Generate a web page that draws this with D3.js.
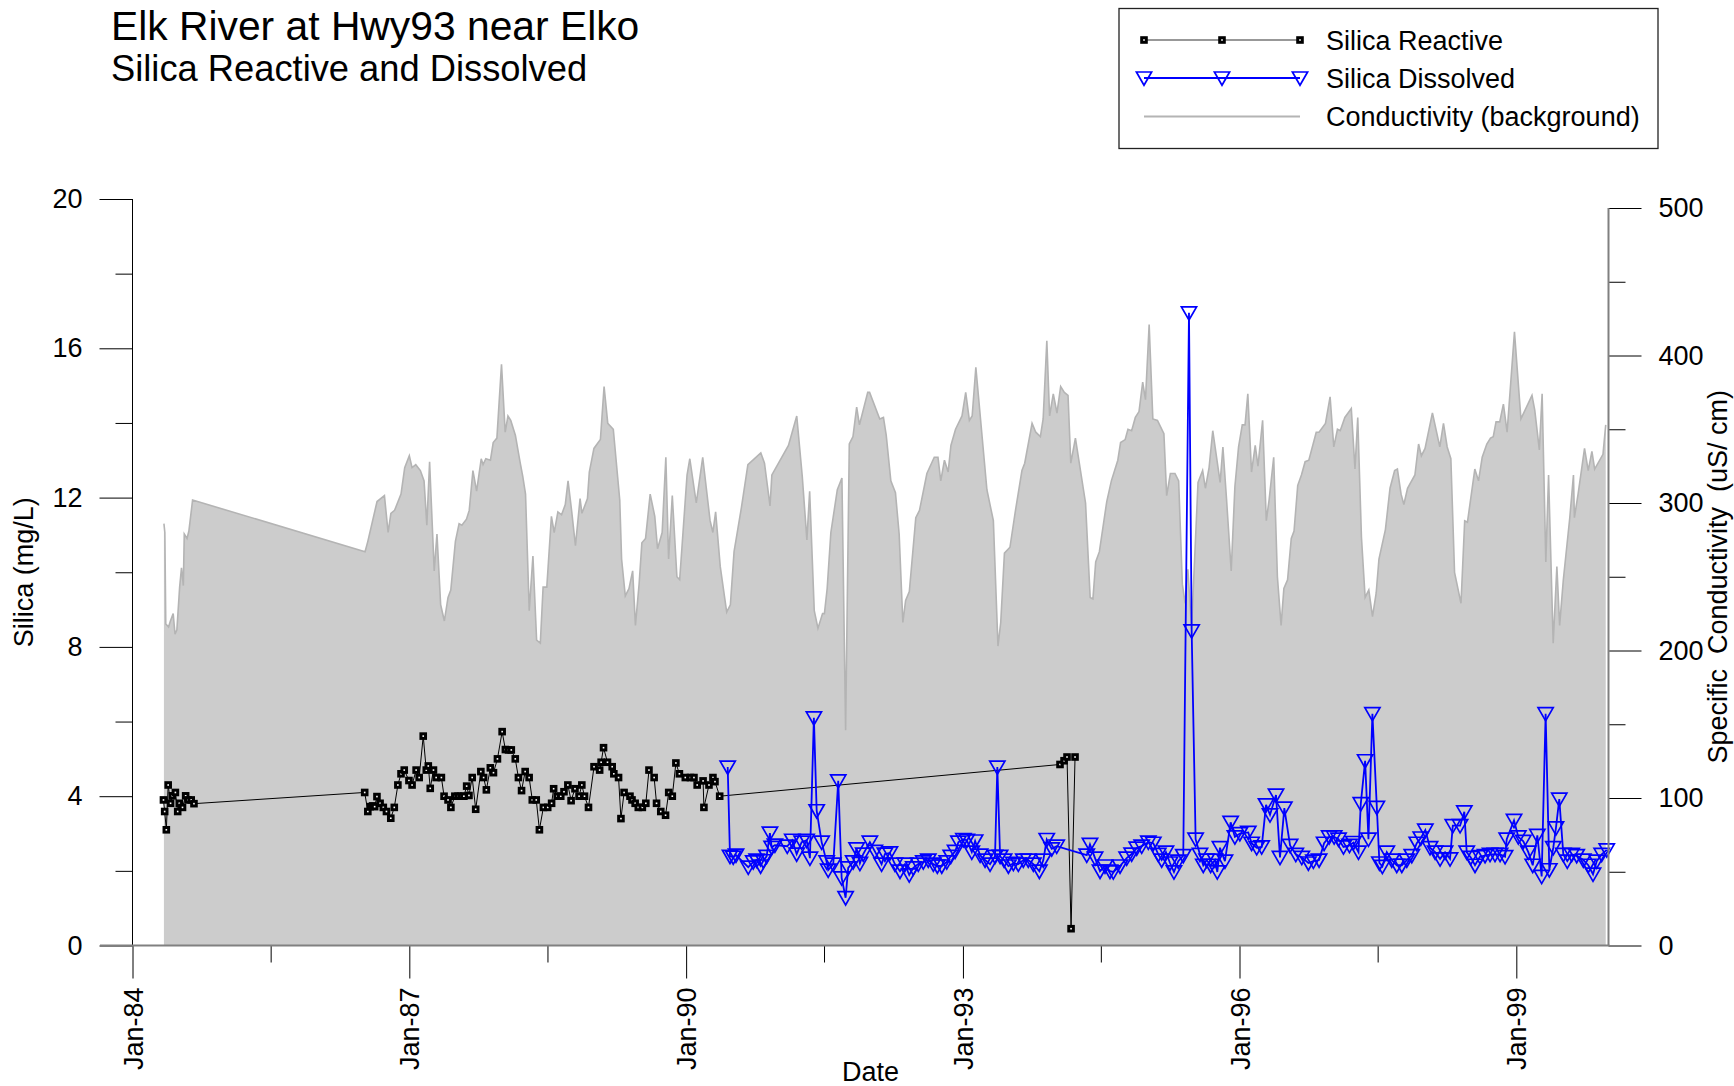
<!DOCTYPE html>
<html><head><meta charset="utf-8">
<script src="https://cdn.jsdelivr.net/npm/d3@7"></script>
<style>
html,body{margin:0;padding:0;background:#fff;}
svg{display:block;font-family:"Liberation Sans",Arial,Helvetica,sans-serif;}
</style></head><body>
<svg id="chart" width="1734" height="1086"></svg>
<script>
// ---------------- DATA ----------------
const titleLines = ["Elk River at Hwy93 near Elko", "Silica Reactive and Dissolved"];
const seriesNames = ["Silica Reactive", "Silica Dissolved", "Conductivity (background)"];
const xLabel = "Date";
const yLeftLabel = "Silica (mg/L)";
const yRightLabel = "Specific  Conductivity  (uS/ cm)";

const xMajorTicks = ["1984-01-01","1987-01-01","1990-01-01","1993-01-01","1996-01-01","1999-01-01"];
const xTickLabels = ["Jan-84","Jan-87","Jan-90","Jan-93","Jan-96","Jan-99"];
const xMinorTicks = ["1985-07-01","1988-07-01","1991-07-01","1994-07-01","1997-07-01"];
const yLeftMajor = [0,4,8,12,16,20];
const yLeftMinor = [2,6,10,14,18];
const yRightMajor = [0,100,200,300,400,500];
const yRightMinor = [50,150,250,350,450];

// Conductivity (decimal year, uS/cm)
const condYears = [
1984.34,1984.35,1984.36,1984.39,1984.41,1984.44,1984.46,1984.48,1984.51,1984.53,1984.55,1984.56,1984.59,1984.61,1984.65,
1986.52,1986.55,1986.65,1986.73,1986.77,1986.80,1986.84,1986.91,1986.95,1987.00,1987.03,1987.07,1987.12,1987.16,1987.19,1987.22,1987.27,1987.30,1987.34,1987.38,1987.42,1987.45,1987.50,1987.54,1987.57,1987.62,1987.65,1987.69,1987.73,1987.78,1987.80,1987.83,1987.88,1987.91,1987.95,
1988.00,1988.04,1988.07,1988.10,1988.15,1988.20,1988.23,1988.26,1988.30,1988.34,1988.38,1988.42,1988.45,1988.49,1988.54,1988.57,1988.61,1988.65,1988.69,1988.72,1988.76,1988.80,1988.85,1988.87,1988.93,1988.95,
1989.00,1989.07,1989.11,1989.15,1989.21,1989.28,1989.30,1989.34,1989.38,1989.42,1989.45,1989.49,1989.52,1989.56,1989.61,1989.66,1989.69,1989.74,1989.78,1989.81,1989.85,1989.90,1989.93,
1990.01,1990.04,1990.11,1990.18,1990.26,1990.29,1990.32,1990.37,1990.44,1990.48,1990.52,1990.60,1990.67,1990.81,1990.85,1990.91,1990.93,
1991.11,1991.20,1991.26,1991.31,1991.34,1991.39,1991.43,1991.48,1991.50,1991.53,1991.57,1991.64,1991.69,1991.73,1991.77,1991.81,1991.85,1991.88,1991.97,1991.99,
1992.10,1992.14,1992.17,1992.22,1992.27,1992.31,1992.35,1992.38,1992.42,1992.49,1992.53,1992.61,1992.69,1992.73,1992.76,1992.80,1992.84,1992.87,1992.92,1992.99,
1993.03,1993.07,1993.10,1993.14,1993.26,1993.33,1993.38,1993.41,1993.45,1993.51,1993.57,1993.64,1993.67,1993.75,1993.79,1993.84,1993.87,1993.91,1993.94,1993.98,
1994.02,1994.06,1994.10,1994.14,1994.17,1994.22,1994.33,1994.38,1994.41,1994.44,1994.48,1994.56,1994.61,1994.68,1994.71,1994.76,1994.79,1994.83,1994.87,1994.91,1994.95,1994.98,
1995.02,1995.06,1995.11,1995.18,1995.21,1995.25,1995.30,1995.34,1995.38,1995.41,1995.44,1995.48,1995.55,1995.60,1995.63,1995.67,1995.71,1995.79,1995.82,1995.86,1995.91,1995.95,1995.99,
1996.03,1996.06,1996.09,1996.13,1996.17,1996.20,1996.25,1996.29,1996.32,1996.37,1996.41,1996.45,1996.48,1996.52,1996.56,1996.59,1996.63,1996.67,1996.71,1996.75,1996.83,1996.86,1996.93,1996.98,
1997.02,1997.06,1997.09,1997.14,1997.21,1997.25,1997.28,1997.32,1997.36,1997.40,1997.44,1997.48,1997.51,1997.58,1997.63,1997.68,1997.71,1997.75,1997.78,1997.82,1997.90,1997.94,1997.97,
1998.01,1998.09,1998.17,1998.21,1998.25,1998.29,1998.33,1998.40,1998.44,1998.47,1998.55,1998.59,1998.63,1998.68,1998.72,1998.75,1998.78,1998.82,1998.86,1998.90,1998.98,
1999.05,1999.17,1999.20,1999.25,1999.28,1999.32,1999.35,1999.40,1999.44,1999.47,1999.51,1999.58,1999.62,1999.63,1999.67,1999.74,1999.78,1999.82,1999.85,1999.94,1999.97];
const condValues = [
286,280,218,216,220,225,211,214,243,256,244,279,276,281,302,
267,274,301,305,280,293,295,306,324,332,324,326,322,315,285,328,254,279,231,220,236,241,274,286,285,289,295,322,308,330,326,330,329,341,344,
394,348,359,356,346,328,318,306,227,264,207,205,243,243,291,280,294,292,299,315,294,271,303,293,303,321,
337,343,379,354,350,302,262,237,242,254,217,245,273,276,306,291,269,280,331,262,305,250,248,
319,330,300,331,288,280,294,257,226,231,267,297,326,334,327,298,319,
339,359,318,275,308,227,215,225,225,242,280,309,317,146,340,345,365,353,375,375,
357,358,346,315,307,279,219,234,240,290,295,320,331,331,315,329,321,339,350,359,
375,356,359,392,309,288,203,219,266,270,295,322,327,354,348,345,357,410,359,374,
361,379,375,373,327,344,300,236,235,260,267,301,315,329,341,343,350,349,358,362,382,370,
421,357,356,347,305,320,320,315,245,232,255,215,314,322,310,324,349,314,338,302,254,311,338,
353,353,374,321,339,325,356,288,302,331,250,217,242,248,276,281,312,319,328,329,348,348,354,372,
338,350,349,358,364,323,358,277,236,241,223,239,262,282,310,322,323,306,299,310,319,340,332,
337,361,338,354,338,330,253,232,288,287,323,315,331,340,344,345,355,355,367,348,416,
357,373,363,336,374,260,319,205,257,217,248,290,319,290,306,337,322,335,323,333,353];

// Silica Reactive (decimal year, mg/L)
const reactiveYears = [
1984.335,1984.348,1984.366,1984.386,1984.412,1984.430,1984.464,1984.489,1984.506,1984.541,1984.575,1984.601,1984.635,1984.665,
1986.516,1986.550,1986.576,1986.602,1986.624,1986.649,1986.683,1986.718,1986.752,1986.799,1986.837,1986.876,1986.910,1986.945,1986.996,
1987.030,1987.074,1987.107,1987.151,1987.184,1987.206,1987.227,1987.262,1987.291,1987.348,1987.377,1987.420,1987.451,1987.494,1987.528,1987.561,1987.592,1987.622,1987.647,1987.682,1987.720,1987.776,1987.806,1987.836,1987.879,1987.913,1987.956,
1988.007,1988.042,1988.076,1988.106,1988.149,1988.183,1988.217,1988.256,1988.299,1988.333,1988.376,1988.410,1988.453,1988.500,1988.542,1988.564,1988.603,1988.641,1988.676,1988.718,1988.753,1988.795,1988.839,1988.869,1988.898,1988.941,
1989.001,1989.062,1989.078,1989.104,1989.147,1989.198,1989.216,1989.267,1989.293,1989.327,1989.391,1989.413,1989.447,1989.481,1989.525,1989.563,1989.597,1989.653,1989.679,1989.725,1989.777,1989.811,1989.850,1989.889,1989.927,1989.991,
1990.047,1990.085,1990.120,1990.184,1990.193,1990.248,1990.291,1990.313,1990.364,
1994.053,1994.097,1994.129,1994.173,1994.216];
const reactiveValues = [
3.90,3.59,3.10,4.30,3.81,4.01,4.10,3.59,3.81,3.70,4.01,3.90,3.90,3.80,
4.10,3.59,3.72,3.74,3.72,3.99,3.81,3.70,3.59,3.41,3.70,4.30,4.60,4.70,4.42,
4.30,4.70,4.50,5.61,4.70,4.81,4.21,4.70,4.50,4.50,4.00,3.90,3.70,4.00,4.00,4.00,4.00,4.27,4.02,4.50,3.65,4.66,4.50,4.17,4.76,4.63,5.00,
5.73,5.25,5.24,5.24,5.00,4.50,4.15,4.66,4.50,3.90,3.90,3.10,3.70,3.70,3.81,4.20,4.00,4.00,4.12,4.30,3.88,4.20,4.00,4.30,4.00,3.70,
4.79,4.70,4.91,5.30,4.91,4.79,4.60,4.50,3.40,4.10,4.00,3.90,3.81,3.70,3.70,3.81,4.70,4.50,3.81,3.59,3.49,4.10,4.00,4.89,4.60,4.50,
4.50,4.50,4.30,4.41,3.70,4.30,4.50,4.39,4.00,
4.85,4.95,5.05,0.45,5.05];

// Silica Dissolved (decimal year, mg/L)
const dissolvedYears = [
1990.451,1990.476,1990.511,1990.541,1990.674,1990.728,1990.765,1990.808,1990.837,1990.873,1990.909,1990.928,1990.963,
1991.097,1991.151,1991.199,1991.253,1991.307,1991.343,1991.386,1991.416,1991.470,1991.524,1991.541,1991.596,1991.650,1991.687,1991.730,1991.758,1991.812,1991.849,1991.885,1991.921,1991.993,
1992.047,1992.120,1992.156,1992.210,1992.264,1992.319,1992.373,1992.419,1992.463,1992.517,1992.571,1992.625,1992.680,1992.723,1992.771,1992.825,1992.868,1992.915,1992.951,
1993.005,1993.042,1993.096,1993.132,1993.186,1993.240,1993.294,1993.348,1993.373,1993.403,1993.446,1993.493,1993.547,1993.601,1993.655,1993.709,1993.764,1993.829,1993.872,1993.909,1993.963,
1994.017,1994.343,1994.378,1994.433,1994.487,1994.541,1994.595,1994.631,1994.704,1994.776,1994.830,1994.885,1994.939,
1995.011,1995.065,1995.119,1995.156,1995.202,1995.246,1995.289,1995.336,1995.390,1995.452,1995.481,1995.524,1995.571,1995.607,1995.643,1995.687,1995.734,1995.759,1995.788,1995.842,1995.904,1995.950,
1996.004,1996.095,1996.131,1996.186,1996.240,1996.287,1996.330,1996.395,1996.438,1996.485,1996.547,1996.609,1996.674,1996.745,1996.799,1996.861,1996.915,1996.970,
1997.024,1997.071,1997.125,1997.190,1997.233,1997.288,1997.313,1997.360,1997.396,1997.439,1997.487,1997.515,1997.547,1997.595,1997.649,1997.703,1997.758,1997.812,1997.866,1997.920,1997.964,
1998.013,1998.064,1998.119,1998.173,1998.227,1998.281,1998.311,1998.390,1998.436,1998.462,1998.506,1998.552,1998.607,1998.661,1998.715,1998.769,1998.824,1998.878,1998.896,1998.975,
1999.022,1999.076,1999.130,1999.178,1999.228,1999.275,1999.318,1999.358,1999.401,1999.430,1999.466,1999.510,1999.553,1999.601,1999.655,1999.727,1999.781,1999.832,1999.872,1999.926,1999.981];
const dissolvedValues = [
4.78,2.39,2.37,2.42,2.10,2.24,2.29,2.13,2.27,2.39,3.01,2.63,2.69,
2.66,2.82,2.45,2.77,2.82,2.34,6.10,3.61,2.77,2.24,2.02,2.18,4.41,1.81,1.28,2.08,2.24,2.59,2.20,2.45,2.77,
2.52,2.18,2.45,2.48,2.18,1.99,2.18,1.89,2.08,2.18,2.24,2.29,2.18,2.13,2.13,2.24,2.39,2.52,2.77,
2.84,2.82,2.50,2.80,2.42,2.29,2.18,2.39,4.78,2.39,2.29,2.13,2.20,2.18,2.29,2.29,2.18,1.99,2.29,2.84,2.59,
2.66,2.42,2.71,2.34,1.99,2.13,1.99,1.97,2.13,2.34,2.45,2.61,2.66,
2.77,2.74,2.44,2.29,2.50,2.21,1.97,2.26,2.41,16.95,8.43,2.85,2.44,2.15,2.29,2.15,2.29,1.97,2.62,2.26,3.30,2.91,
3.00,3.03,2.74,2.62,2.64,3.77,3.50,4.03,2.36,3.68,2.68,2.44,2.36,2.21,2.26,2.29,2.74,2.91,
2.91,2.85,2.64,2.68,2.76,2.50,3.80,4.95,2.85,6.21,3.70,2.21,2.12,2.50,2.29,2.15,2.15,2.29,2.41,2.74,2.88,
3.09,2.62,2.50,2.32,2.50,2.32,3.21,3.21,3.58,2.50,2.36,2.15,2.38,2.41,2.44,2.44,2.44,2.38,2.85,3.35,
2.91,2.79,2.50,2.15,2.95,1.85,6.21,2.03,2.62,3.15,3.92,2.44,2.26,2.44,2.41,2.29,2.15,1.91,2.26,2.44,2.56];

// ---------------- CHART ----------------
function dec2date(d){
  const y = Math.floor(d);
  const a = new Date(y,0,1), b = new Date(y+1,0,1);
  return new Date(+a + (d - y) * (b - a));
}
const parse = d3.timeParse("%Y-%m-%d");
const cond = d3.zip(condYears, condValues).map(([t,v]) => ({date: dec2date(t), v}));
const reactive = d3.zip(reactiveYears, reactiveValues).map(([t,v]) => ({date: dec2date(t), v}));
const dissolved = d3.zip(dissolvedYears, dissolvedValues).map(([t,v]) => ({date: dec2date(t), v}));

const L = 132.5, R = 1608.5, B = 945.5, TL = 199, TR = 208;
const FS = 27;
const svg = d3.select("#chart");

const x = d3.scaleTime().domain([new Date(1984,0,1), new Date(2000,0,1)]).range([L, R]);
const yL = d3.scaleLinear().domain([0,20]).range([B, TL]);
const yR = d3.scaleLinear().domain([0,500]).range([B, TR]);

// Titles
svg.append("text").attr("x",111).attr("y",40).attr("font-size",40.8).text(titleLines[0]);
svg.append("text").attr("x",111).attr("y",81).attr("font-size",36.3).text(titleLines[1]);

// Conductivity background area
svg.append("path").datum(cond)
  .attr("fill","#cccccc")
  .attr("d", d3.area().x(d=>x(d.date)).y0(yR(0)).y1(d=>yR(d.v)));
svg.append("path").datum(cond)
  .attr("fill","none").attr("stroke","#b4b4b4").attr("stroke-width",1.6)
  .attr("d", d3.line().x(d=>x(d.date)).y(d=>yR(d.v)));

// Silica reactive
function square(sel){
  sel.attr("width",4.6).attr("height",4.6)
    .attr("fill","#ffffff").attr("stroke","#000").attr("stroke-width",3);
}
svg.append("path").datum(reactive)
  .attr("fill","none").attr("stroke","#000").attr("stroke-width",1)
  .attr("d", d3.line().x(d=>x(d.date)).y(d=>yL(d.v)));
svg.append("g").selectAll("rect").data(reactive).join("rect")
  .attr("x", d=>x(d.date)-2.3).attr("y", d=>yL(d.v)-2.3).call(square);

// Silica dissolved
const tri = "M-7.6,-6L7.6,-6L0,7.2Z";
svg.append("path").datum(dissolved)
  .attr("fill","none").attr("stroke","#0000ff").attr("stroke-width",1.8)
  .attr("d", d3.line().x(d=>x(d.date)).y(d=>yL(d.v)));
svg.append("g").selectAll("path").data(dissolved).join("path")
  .attr("transform", d=>`translate(${x(d.date)},${yL(d.v)})`)
  .attr("d", tri).attr("fill","none").attr("stroke","#0000ff").attr("stroke-width",1.7);

// Axes helper
function styleAxis(g){
  g.select(".domain").remove();
  g.selectAll(".tick line").attr("stroke","#000").attr("stroke-width",1);
  g.selectAll("text").attr("font-size",FS).attr("fill","#000")
    .attr("font-family",'"Liberation Sans",Arial,Helvetica,sans-serif');
}
// Left axis
svg.append("g").attr("transform",`translate(${L},0)`)
  .call(d3.axisLeft(yL).tickValues(yLeftMinor).tickSize(17).tickFormat("")).call(styleAxis);
svg.append("g").attr("transform",`translate(${L},0)`)
  .call(d3.axisLeft(yL).tickValues(yLeftMajor).tickSize(33).tickPadding(17).tickFormat(d3.format("d"))).call(styleAxis);
svg.append("line").attr("x1",L).attr("x2",L).attr("y1",TL).attr("y2",B).attr("stroke","#000").attr("stroke-width",1);

// Right axis
svg.append("g").attr("transform",`translate(${R},0)`)
  .call(d3.axisRight(yR).tickValues(yRightMinor).tickSize(17).tickFormat("")).call(styleAxis);
svg.append("g").attr("transform",`translate(${R},0)`)
  .call(d3.axisRight(yR).tickValues(yRightMajor).tickSize(33).tickPadding(17).tickFormat(d3.format("d"))).call(styleAxis);

// Bottom axis
svg.append("g").attr("transform",`translate(0,${B})`)
  .call(d3.axisBottom(x).tickValues(xMinorTicks.map(parse)).tickSize(17).tickFormat("")).call(styleAxis);
const xg = svg.append("g").attr("transform",`translate(0,${B})`)
  .call(d3.axisBottom(x).tickValues(xMajorTicks.map(parse)).tickSize(33).tickFormat((d,i)=>xTickLabels[i])).call(styleAxis);
xg.selectAll(".tick text")
  .attr("y",null).attr("dy",null)
  .attr("text-anchor","end")
  .attr("transform","translate(9.5,42) rotate(-90)");

// gray frame lines of conductivity plot
svg.append("line").attr("x1",100).attr("x2",R+1).attr("y1",B).attr("y2",B).attr("stroke","#808080").attr("stroke-width",2);
svg.append("line").attr("x1",R).attr("x2",R).attr("y1",TR).attr("y2",B).attr("stroke","#808080").attr("stroke-width",2);

// Axis titles
svg.append("text").attr("x",(L+R)/2).attr("y",1081).attr("text-anchor","middle").attr("font-size",FS).text(xLabel);
svg.append("text").attr("transform",`translate(33,${(TL+B)/2}) rotate(-90)`).attr("text-anchor","middle").attr("font-size",FS).text(yLeftLabel);
svg.append("text").attr("transform",`translate(1727,${(TR+B)/2}) rotate(-90)`).attr("text-anchor","middle")
  .attr("font-size",FS).style("white-space","pre").text(yRightLabel);

// Legend
const lg = svg.append("g");
lg.append("rect").attr("x",1119).attr("y",8.5).attr("width",539).attr("height",140)
  .attr("fill","#fff").attr("stroke","#222").attr("stroke-width",1.3);
const rowsY = [40, 78, 116.5];
const lx = [1144, 1222, 1300];
// row 1
lg.append("line").attr("x1",lx[0]).attr("x2",lx[2]).attr("y1",rowsY[0]).attr("y2",rowsY[0]).attr("stroke","#333").attr("stroke-width",1.2);
lg.selectAll("rect.m").data(lx).join("rect").attr("class","m")
  .attr("x",d=>d-2.3).attr("y",rowsY[0]-2.3).call(square);
// row 2
lg.append("line").attr("x1",lx[0]).attr("x2",lx[2]).attr("y1",rowsY[1]).attr("y2",rowsY[1]).attr("stroke","#0000ff").attr("stroke-width",1.8);
lg.selectAll("path.m").data(lx).join("path").attr("class","m")
  .attr("transform",d=>`translate(${d},${rowsY[1]})`).attr("d",tri)
  .attr("fill","none").attr("stroke","#0000ff").attr("stroke-width",1.7);
// row 3
lg.append("line").attr("x1",lx[0]).attr("x2",lx[2]).attr("y1",rowsY[2]).attr("y2",rowsY[2]).attr("stroke","#b4b4b4").attr("stroke-width",1.8);
seriesNames.forEach((n,i)=>{
  lg.append("text").attr("x",1326).attr("y",rowsY[i]+9.5).attr("font-size",FS).text(n);
});
</script>
</body></html>
